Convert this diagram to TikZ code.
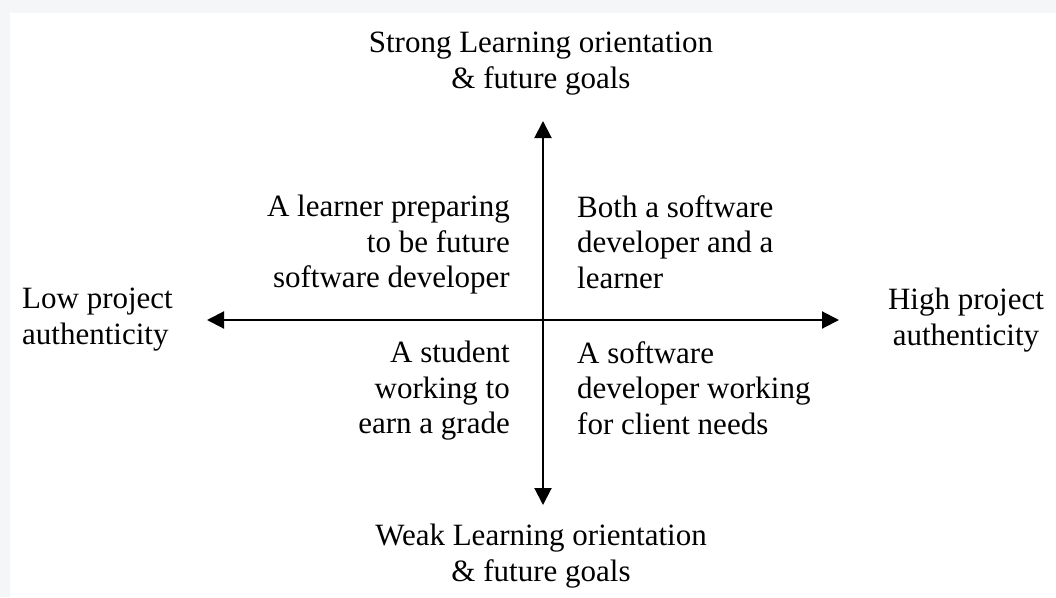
\documentclass[tikz,border=0pt]{standalone}
\usepackage{fontspec}
\setmainfont{Liberation Serif}
\usetikzlibrary{arrows.meta}
\definecolor{pagebg}{HTML}{F5F6F8}
\tikzset{
  lbl/.style={inner sep=0pt, font=\fontsize{31}{35.5}\selectfont},
  axis/.style={line width=2pt, {Triangle[length=17pt,width=17pt]}-{Triangle[length=17pt,width=17pt]}}
}
\begin{document}
\begin{tikzpicture}[x=1pt,y=-1pt]
\useasboundingbox (0,0) rectangle (1056,597);
\fill[pagebg] (0,0) rectangle (1056,597);
\fill[white] (10,13) rectangle (1056,597);
\coordinate (N) at (543,121);
\coordinate (S) at (543,505);
\coordinate (W) at (207,320);
\coordinate (E) at (839,320);
\draw[axis] (S) -- (N);
\draw[axis] (W) -- (E);
\node[lbl, align=center, anchor=north] (top) at (541,32) {Strong Learning orientation\\\& future goals};
\node[lbl, align=center, anchor=north] (bottom) at (541,524) {Weak Learning orientation\\\& future goals};
\node[lbl, align=left, anchor=north west] (left) at (22,288) {Low project\\authenticity};
\node[lbl, align=center, anchor=north] (right) at (966,288) {High project\\authenticity};
\node[lbl, align=right, anchor=north east] (ul) at (510,195) {A learner preparing\\to be future\\software developer};
\node[lbl, align=left, anchor=north west] (ur) at (577,195) {Both a software\\developer and a\\learner};
\node[lbl, align=right, anchor=north east] (ll) at (510,341) {A student\\working to\\earn a grade};
\node[lbl, align=left, anchor=north west] (lr) at (577,341) {A software\\developer working\\for client needs};
\end{tikzpicture}
\end{document}
